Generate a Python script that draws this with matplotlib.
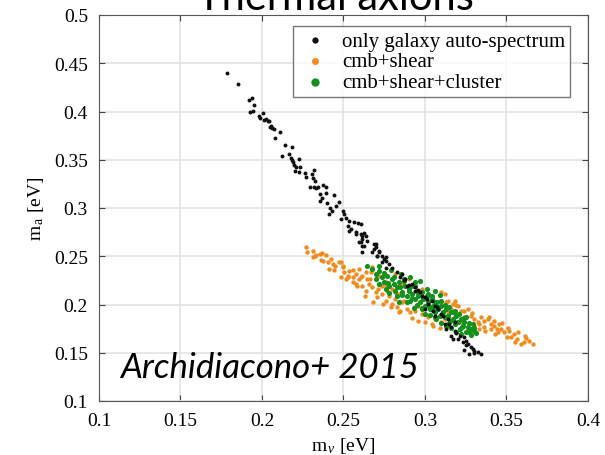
import matplotlib
matplotlib.use("Agg")
import matplotlib.pyplot as plt

# only galaxy auto-spectrum
gal_mnu = [0.1784, 0.1850, 0.1919, 0.1941, 0.1952, 0.1929, 0.1945, 0.1984, 0.2006, 0.1990,
           0.2014, 0.2035, 0.2042, 0.2026, 0.2050, 0.2061, 0.2071, 0.2056, 0.2109, 0.2081,
           0.2139, 0.2184, 0.2123, 0.2168, 0.2176, 0.2184, 0.2192, 0.2228, 0.2198, 0.2208,
           0.2236, 0.2202, 0.2228, 0.2262, 0.2317, 0.2309, 0.2273, 0.2313, 0.2323, 0.2293,
           0.2320, 0.2344, 0.2374, 0.2394, 0.2333, 0.2358, 0.2390, 0.2441, 0.2368, 0.2354,
           0.2398, 0.2475, 0.2455, 0.2416, 0.2430, 0.2410, 0.2495, 0.2505, 0.2485, 0.2515,
           0.2535, 0.2565, 0.2586, 0.2606, 0.2525, 0.2545, 0.2576, 0.2606, 0.2626, 0.2636,
           0.2616, 0.2606, 0.2647, 0.2616, 0.2687, 0.2697, 0.2717, 0.2677, 0.2738, 0.2707,
           0.2758, 0.2616, 0.2535, 0.2576, 0.2616, 0.2596, 0.2626, 0.2697, 0.2687, 0.2717,
           0.2707, 0.2747, 0.2738, 0.2778, 0.2758, 0.2828, 0.2859, 0.2848, 0.2879, 0.2889,
           0.2919, 0.2939, 0.2939, 0.2970, 0.2980, 0.3000, 0.3040, 0.3020, 0.3061, 0.3071,
           0.3050, 0.3101, 0.3141, 0.3131, 0.3121, 0.3162, 0.3162, 0.3182, 0.3202, 0.3212,
           0.3242, 0.3232, 0.3262, 0.3283, 0.3273, 0.3303, 0.3343, 0.3323, 0.3293, 0.3253,
           0.3000, 0.3061, 0.3182, 0.2760, 0.2800, 0.2870, 0.2900, 0.2960, 0.3010, 0.3080,
           0.3110, 0.3150, 0.3190, 0.3250, 0.3300, 0.3240, 0.3170]
gal_ma = [0.4396, 0.4288, 0.4122, 0.4137, 0.4064, 0.3992, 0.4008, 0.3957, 0.3981, 0.3933,
          0.3912, 0.3905, 0.3898, 0.3919, 0.3843, 0.3829, 0.3819, 0.3853, 0.3791, 0.3725,
          0.3656, 0.3632, 0.3536, 0.3560, 0.3518, 0.3500, 0.3480, 0.3505, 0.3446, 0.3421,
          0.3421, 0.3387, 0.3370, 0.3363, 0.3397, 0.3352, 0.3318, 0.3307, 0.3276, 0.3221,
          0.3221, 0.3221, 0.3238, 0.3214, 0.3210, 0.3145, 0.3152, 0.3134, 0.3100, 0.3075,
          0.3052, 0.3065, 0.3024, 0.3000, 0.2972, 0.2938, 0.2972, 0.2938, 0.2886, 0.2893,
          0.2869, 0.2858, 0.2845, 0.2834, 0.2817, 0.2782, 0.2748, 0.2731, 0.2741, 0.2713,
          0.2679, 0.2644, 0.2661, 0.2609, 0.2627, 0.2592, 0.2557, 0.2540, 0.2505, 0.2505,
          0.2488, 0.2540, 0.2765, 0.2731, 0.2713, 0.2645, 0.2609, 0.2627, 0.2575, 0.2540,
          0.2506, 0.2472, 0.2437, 0.2420, 0.2383, 0.2333, 0.2316, 0.2282, 0.2264, 0.2195,
          0.2212, 0.2178, 0.2143, 0.2126, 0.2091, 0.2075, 0.2039, 0.2005, 0.1988, 0.1971,
          0.1936, 0.1902, 0.1850, 0.1746, 0.1798, 0.1763, 0.1677, 0.1729, 0.1643, 0.1677,
          0.1659, 0.1608, 0.1591, 0.1556, 0.1487, 0.1521, 0.1487, 0.1504, 0.1540, 0.1620,
          0.1950, 0.1880, 0.1820, 0.2450, 0.2380, 0.2250, 0.2200, 0.2150, 0.2060, 0.1950,
          0.1880, 0.1800, 0.1700, 0.1580, 0.1500, 0.1530, 0.1640]

# cmb+shear
shear_mnu = [0.2267, 0.2277, 0.2313, 0.2333, 0.2354, 0.2370, 0.2323, 0.2374, 0.2404, 0.2424,
             0.2434, 0.2445, 0.2414, 0.2485, 0.2495, 0.2505, 0.2485, 0.2515, 0.2525, 0.2535,
             0.2556, 0.2576, 0.2596, 0.2556, 0.2576, 0.2616, 0.2646, 0.2657, 0.2636, 0.2677,
             0.2697, 0.2667, 0.2717, 0.2707, 0.2737, 0.2758, 0.2768, 0.2778, 0.2798, 0.2818,
             0.2828, 0.2849, 0.2859, 0.2889, 0.2909, 0.2939, 0.2960, 0.2980, 0.3020, 0.3061,
             0.3101, 0.3121, 0.3141, 0.3162, 0.3172, 0.3141, 0.3121, 0.3101, 0.3182, 0.3202,
             0.3222, 0.3263, 0.3283, 0.3303, 0.3323, 0.3343, 0.3364, 0.3384, 0.3404, 0.3424,
             0.3444, 0.3404, 0.3364, 0.3333, 0.3424, 0.3455, 0.3465, 0.3485, 0.3515, 0.3505,
             0.3545, 0.3566, 0.3586, 0.3616, 0.3636, 0.3663, 0.3606, 0.3263, 0.3222, 0.2980,
             0.2899, 0.2859, 0.2818, 0.2758, 0.2677, 0.2596, 0.2636, 0.2616, 0.2737, 0.2798,
             0.2838, 0.2939, 0.3020, 0.3061, 0.3182, 0.3242, 0.3303, 0.3141, 0.3040,
             0.231, 0.236, 0.239, 0.244, 0.247, 0.250, 0.253, 0.256, 0.258, 0.261,
             0.263, 0.266, 0.268, 0.271, 0.274, 0.276, 0.279, 0.282, 0.284, 0.287,
             0.292, 0.296, 0.300, 0.305, 0.309, 0.313, 0.319, 0.324, 0.329, 0.333,
             0.337, 0.339, 0.343, 0.347, 0.351, 0.353, 0.357, 0.362, 0.355, 0.345]
shear_ma = [0.2592, 0.2548, 0.2489, 0.2513, 0.2523, 0.2534, 0.2506, 0.2454, 0.2437, 0.2472,
            0.2420, 0.2396, 0.2368, 0.2437, 0.2385, 0.2333, 0.2282, 0.2264, 0.2299, 0.2351,
            0.2282, 0.2316, 0.2264, 0.2230, 0.2213, 0.2195, 0.2264, 0.2213, 0.2143, 0.2178,
            0.2126, 0.2333, 0.2299, 0.2074, 0.2109, 0.2040, 0.2143, 0.2091, 0.2005, 0.2057,
            0.1971, 0.1936, 0.2022, 0.1953, 0.1919, 0.1936, 0.1988, 0.1902, 0.1867, 0.1850,
            0.1815, 0.1850, 0.1919, 0.1953, 0.2005, 0.2040, 0.2109, 0.2126, 0.2040, 0.1988,
            0.1936, 0.1953, 0.1884, 0.1850, 0.1815, 0.1867, 0.1833, 0.1850, 0.1798, 0.1781,
            0.1746, 0.1746, 0.1763, 0.1746, 0.1833, 0.1798, 0.1746, 0.1712, 0.1729, 0.1660,
            0.1694, 0.1643, 0.1591, 0.1677, 0.1625, 0.1591, 0.1608, 0.1746, 0.1815, 0.2161,
            0.2264, 0.2213, 0.2316, 0.2230, 0.2385, 0.2368, 0.2333, 0.2299, 0.2195, 0.2161,
            0.2109, 0.2057, 0.1988, 0.1936, 0.1884, 0.1867, 0.1781, 0.1781, 0.1798,
            0.255, 0.246, 0.251, 0.236, 0.244, 0.240, 0.228, 0.236, 0.219, 0.229,
            0.209, 0.226, 0.203, 0.216, 0.201, 0.220, 0.197, 0.212, 0.192, 0.204,
            0.186, 0.183, 0.182, 0.178, 0.176, 0.203, 0.199, 0.193, 0.191, 0.180,
            0.173, 0.187, 0.169, 0.181, 0.176, 0.166, 0.172, 0.165, 0.161, 0.172]

# cmb+shear+cluster
clus_mnu = [0.2647, 0.2677, 0.2697, 0.2717, 0.2737, 0.2747, 0.2768, 0.2778, 0.2798, 0.2808,
            0.2818, 0.2838, 0.2849, 0.2859, 0.2869, 0.2879, 0.2889, 0.2899, 0.2919, 0.2929,
            0.2939, 0.2949, 0.2960, 0.2970, 0.2980, 0.2990, 0.3000, 0.3010, 0.3020, 0.3030,
            0.3040, 0.3050, 0.3061, 0.3071, 0.3081, 0.3091, 0.3101, 0.3111, 0.3121, 0.3131,
            0.3141, 0.3152, 0.3162, 0.3172, 0.3182, 0.3192, 0.3202, 0.3222, 0.3232, 0.3242,
            0.3263, 0.3283, 0.3293, 0.3273, 0.3212, 0.3141, 0.3061, 0.2980, 0.2909, 0.2828,
            0.2758, 0.2717, 0.3020, 0.2939, 0.3101, 0.3182, 0.3253, 0.3303,
            0.270, 0.272, 0.275, 0.277, 0.279, 0.281, 0.283, 0.285, 0.286, 0.287,
            0.289, 0.290, 0.291, 0.292, 0.294, 0.295, 0.296, 0.297, 0.298, 0.299,
            0.301, 0.302, 0.303, 0.304, 0.305, 0.306, 0.307, 0.308, 0.309, 0.310,
            0.311, 0.312, 0.313, 0.314, 0.315, 0.316, 0.317, 0.318, 0.319, 0.320,
            0.321, 0.322, 0.323, 0.324, 0.325, 0.327, 0.328, 0.330, 0.331, 0.284,
            0.278, 0.300, 0.306, 0.293]
clus_ma = [0.2403, 0.2368, 0.2316, 0.2351, 0.2282, 0.2230, 0.2299, 0.2195, 0.2264, 0.2213,
           0.2143, 0.2230, 0.2178, 0.2126, 0.2264, 0.2195, 0.2092, 0.2161, 0.2109, 0.2195,
           0.2057, 0.2143, 0.2092, 0.2022, 0.2126, 0.2057, 0.1988, 0.2092, 0.2022, 0.1953,
           0.2057, 0.1988, 0.1919, 0.2022, 0.1953, 0.1884, 0.1988, 0.1919, 0.1867, 0.1953,
           0.1884, 0.1833, 0.1919, 0.1850, 0.1798, 0.1884, 0.1815, 0.1850, 0.1781, 0.1815,
           0.1763, 0.1746, 0.1798, 0.1712, 0.1746, 0.1798, 0.1867, 0.1953, 0.2040, 0.2092,
           0.2161, 0.2213, 0.2109, 0.2230, 0.2040, 0.1936, 0.1867, 0.1729,
           0.226, 0.240, 0.233, 0.222, 0.236, 0.228, 0.218, 0.232, 0.210, 0.224,
           0.203, 0.214, 0.228, 0.207, 0.219, 0.200, 0.212, 0.224, 0.196, 0.206,
           0.216, 0.199, 0.189, 0.209, 0.194, 0.203, 0.185, 0.197, 0.210, 0.181,
           0.192, 0.200, 0.178, 0.188, 0.197, 0.176, 0.184, 0.192, 0.172, 0.182,
           0.190, 0.169, 0.177, 0.186, 0.171, 0.181, 0.168, 0.176, 0.170, 0.203,
           0.212, 0.190, 0.214, 0.196]

ticks = [0.1, 0.15, 0.2, 0.25, 0.3, 0.35, 0.4, 0.45, 0.5]
tick_labels = ['0.1', '0.15', '0.2', '0.25', '0.3', '0.35', '0.4', '0.45', '0.5']

plt.rcParams['font.family'] = 'Liberation Serif'
plt.rcParams['mathtext.fontset'] = 'custom'
plt.rcParams['mathtext.rm'] = 'Liberation Serif'
plt.rcParams['mathtext.it'] = 'Liberation Serif:italic'

fig = plt.figure(figsize=(6.05, 4.56), dpi=100)
ax = fig.add_axes([99/605, 1-402/456, 489/605, 386/456])

#draw orange first, then green, black on top
s_sh = ax.scatter(shear_mnu, shear_ma, s=10, color='#f08c1e', linewidths=0, zorder=3, label='cmb+shear')
s_cl = ax.scatter(clus_mnu, clus_ma, s=14, color='#14901e', linewidths=0, zorder=4, label='cmb+shear+cluster')
s_ga = ax.scatter(gal_mnu, gal_ma, s=8, color='#111111', linewidths=0, zorder=5, label='only galaxy auto-spectrum')

ax.set_xlim(0.1, 0.4)
ax.set_ylim(0.1, 0.5)
ax.set_xticks(ticks[:7])
ax.set_xticklabels(tick_labels[:7])
ax.set_yticks(ticks)
ax.set_yticklabels(tick_labels)
ax.grid(True, color='#e3e3e3', linewidth=1.2)
ax.set_axisbelow(True)
ax.tick_params(direction='in', length=4, width=0.8, color='#444444', labelsize=14,
               top=True, right=True, pad=8)
for sp in ax.spines.values():
    sp.set_color('#555555')
    sp.set_linewidth(0.8)

ax.set_xlabel(r'$\mathrm{m}_{\,\nu}$ [eV]', fontsize=14, labelpad=4)
ax.set_ylabel(r'$\mathrm{m}_{\,\mathrm{a}}$ [eV]', fontsize=14, labelpad=6)

leg = ax.legend(handles=[s_ga, s_sh, s_cl], loc='upper left', bbox_to_anchor=(194/489, 1-11/386),
                fontsize=15, markerscale=1.6, frameon=True, fancybox=False, borderpad=0.25,
                labelspacing=0.05, handlelength=1.6, handletextpad=0.5, borderaxespad=0)
leg.get_frame().set_edgecolor('#555555')
leg.get_frame().set_linewidth(1.0)

fig.text(335/605, 1-10/456, 'Thermal axions', family='Lato', fontsize=30,
         ha='center', va='baseline')
fig.text(120/605, 1-378/456, 'Archidiacono+ 2015', family='Lato', style='italic',
         fontsize=25, ha='left', va='baseline')

fig.savefig('out.png', dpi=100)
